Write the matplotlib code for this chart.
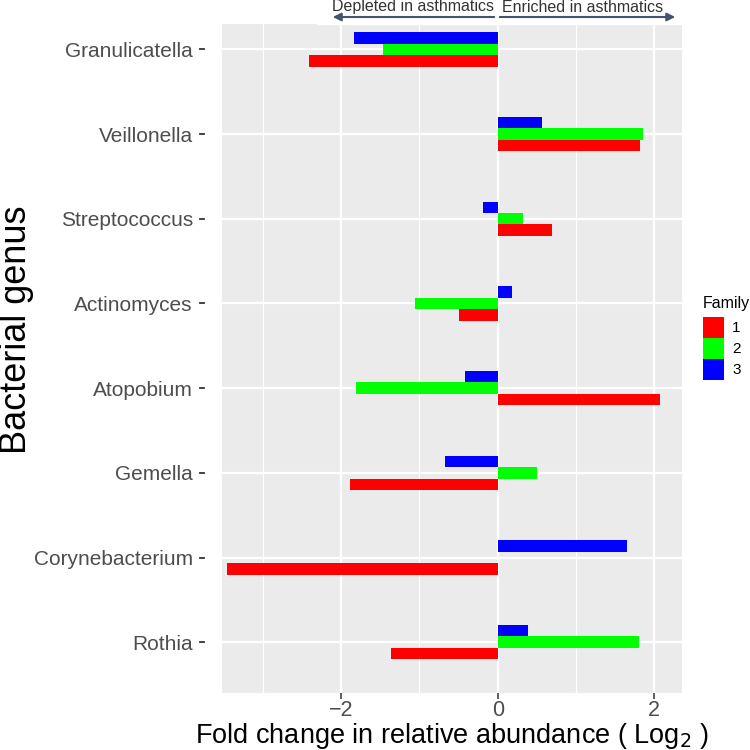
import numpy as np
import matplotlib.pyplot as plt
from matplotlib.patches import Patch, FancyArrowPatch, Rectangle
from matplotlib.lines import Line2D
from matplotlib.transforms import blended_transform_factory

plt.rcParams['font.family'] = ['Liberation Sans', 'DejaVu Sans']

# genera listed top to bottom as in the chart
genera = ['Granulicatella', 'Veillonella', 'Streptococcus', 'Actinomyces',
          'Atopobium', 'Gemella', 'Corynebacterium', 'Rothia']
family_labels = ['1', '2', '3']
fam1 = [-2.41, 1.82, 0.69, -0.49, 2.07, -1.88, -3.46, -1.36]
fam2 = [-1.46, 1.86, 0.32, -1.06, -1.81, 0.50, 0.00, 1.80]
fam3 = [-1.83, 0.565, -0.19, 0.18, -0.42, -0.67, 1.65, 0.39]
colors = ['#FF0000', '#00FF00', '#0000FF']

fig = plt.figure(figsize=(7.5, 7.5), dpi=100)
ax = fig.add_axes([0.296, 0.076, 0.613, 0.892])
ax.set_facecolor('#EBEBEB')

n = len(genera)
ypos = np.arange(n)[::-1]  # first genus at top
h = 0.135
for k, (vals, c) in enumerate(zip([fam1, fam2, fam3], colors)):
    ax.barh(ypos + (k - 1) * h, vals, height=h, color=c, zorder=3)

ax.set_xlim(-3.52, 2.35)
ax.set_ylim(-0.6, n - 1 + 0.3)
ax.set_xticks([-2, 0, 2])
ax.set_xticklabels(['\u22122', '0', '2'])
ax.set_xticks([-3, -1, 1], minor=True)
ax.set_yticks(ypos)
ax.set_yticklabels(genera)

ax.grid(which='major', color='white', linewidth=1.6, zorder=0)
ax.grid(which='minor', axis='x', color='white', linewidth=0.8, zorder=0)
ax.tick_params(axis='x', which='major', colors='#333333', labelcolor='#4D4D4D',
               labelsize=15.5, length=4, width=1.1, pad=1)
ax.tick_params(axis='y', which='major', labelcolor='#4D4D4D', labelsize=15,
               length=0, pad=21)
ax.tick_params(axis='x', which='minor', length=0)
for s in ax.spines.values():
    s.set_visible(False)

# short y tick marks sitting a little left of the panel, as in the original
tr = blended_transform_factory(fig.transFigure, ax.transData)
for y in ypos:
    fig.add_artist(Line2D([200 / 750, 204 / 750], [y, y], transform=tr,
                          color='#333333', lw=1.3))

ax.set_xlabel('Fold change in relative abundance ( Log$_2$ )', fontsize=19.5, labelpad=0)
ax.set_ylabel('Bacterial genus', fontsize=26, labelpad=0)
ax.yaxis.set_label_coords(34 / 750, 1 - 330 / 750, transform=fig.transFigure)

# legend
handles = [Patch(facecolor=c, edgecolor='none') for c in colors]
leg = fig.legend(handles, family_labels, title='Family', loc='upper left',
                 bbox_to_anchor=(703 / 750, 1 - 296 / 750), frameon=False, fontsize=11,
                 title_fontsize=11.5, handlelength=1.35, handleheight=1.75,
                 handletextpad=0.55, labelspacing=0.0, borderaxespad=0, borderpad=0)
leg._legend_box.align = 'left'
leg._legend_box.sep = 4

# direction annotation at the top
arrow_col = '#44546A'
y_arr = 1 - 17 / 750
x0 = 497 / 750
fig.add_artist(Rectangle((317 / 750, 1 - 24 / 750), 383 / 750, 24 / 750,
                         transform=fig.transFigure, color='white', zorder=5))
for xe in (330 / 750, 678 / 750):
    fig.add_artist(FancyArrowPatch((x0, y_arr), (xe, y_arr), transform=fig.transFigure,
                                   arrowstyle='-|>', color=arrow_col, lw=1.5,
                                   mutation_scale=12, zorder=6))
fig.text(413 / 750, 1 - 7 / 750, 'Depleted in asthmatics', ha='center', va='center',
         fontsize=11.5, color='#333333', zorder=6)
fig.text(583 / 750, 1 - 7 / 750, 'Enriched in asthmatics', ha='center', va='center',
         fontsize=11.5, color='#333333', zorder=6)

fig.savefig('out.png', dpi=100)
